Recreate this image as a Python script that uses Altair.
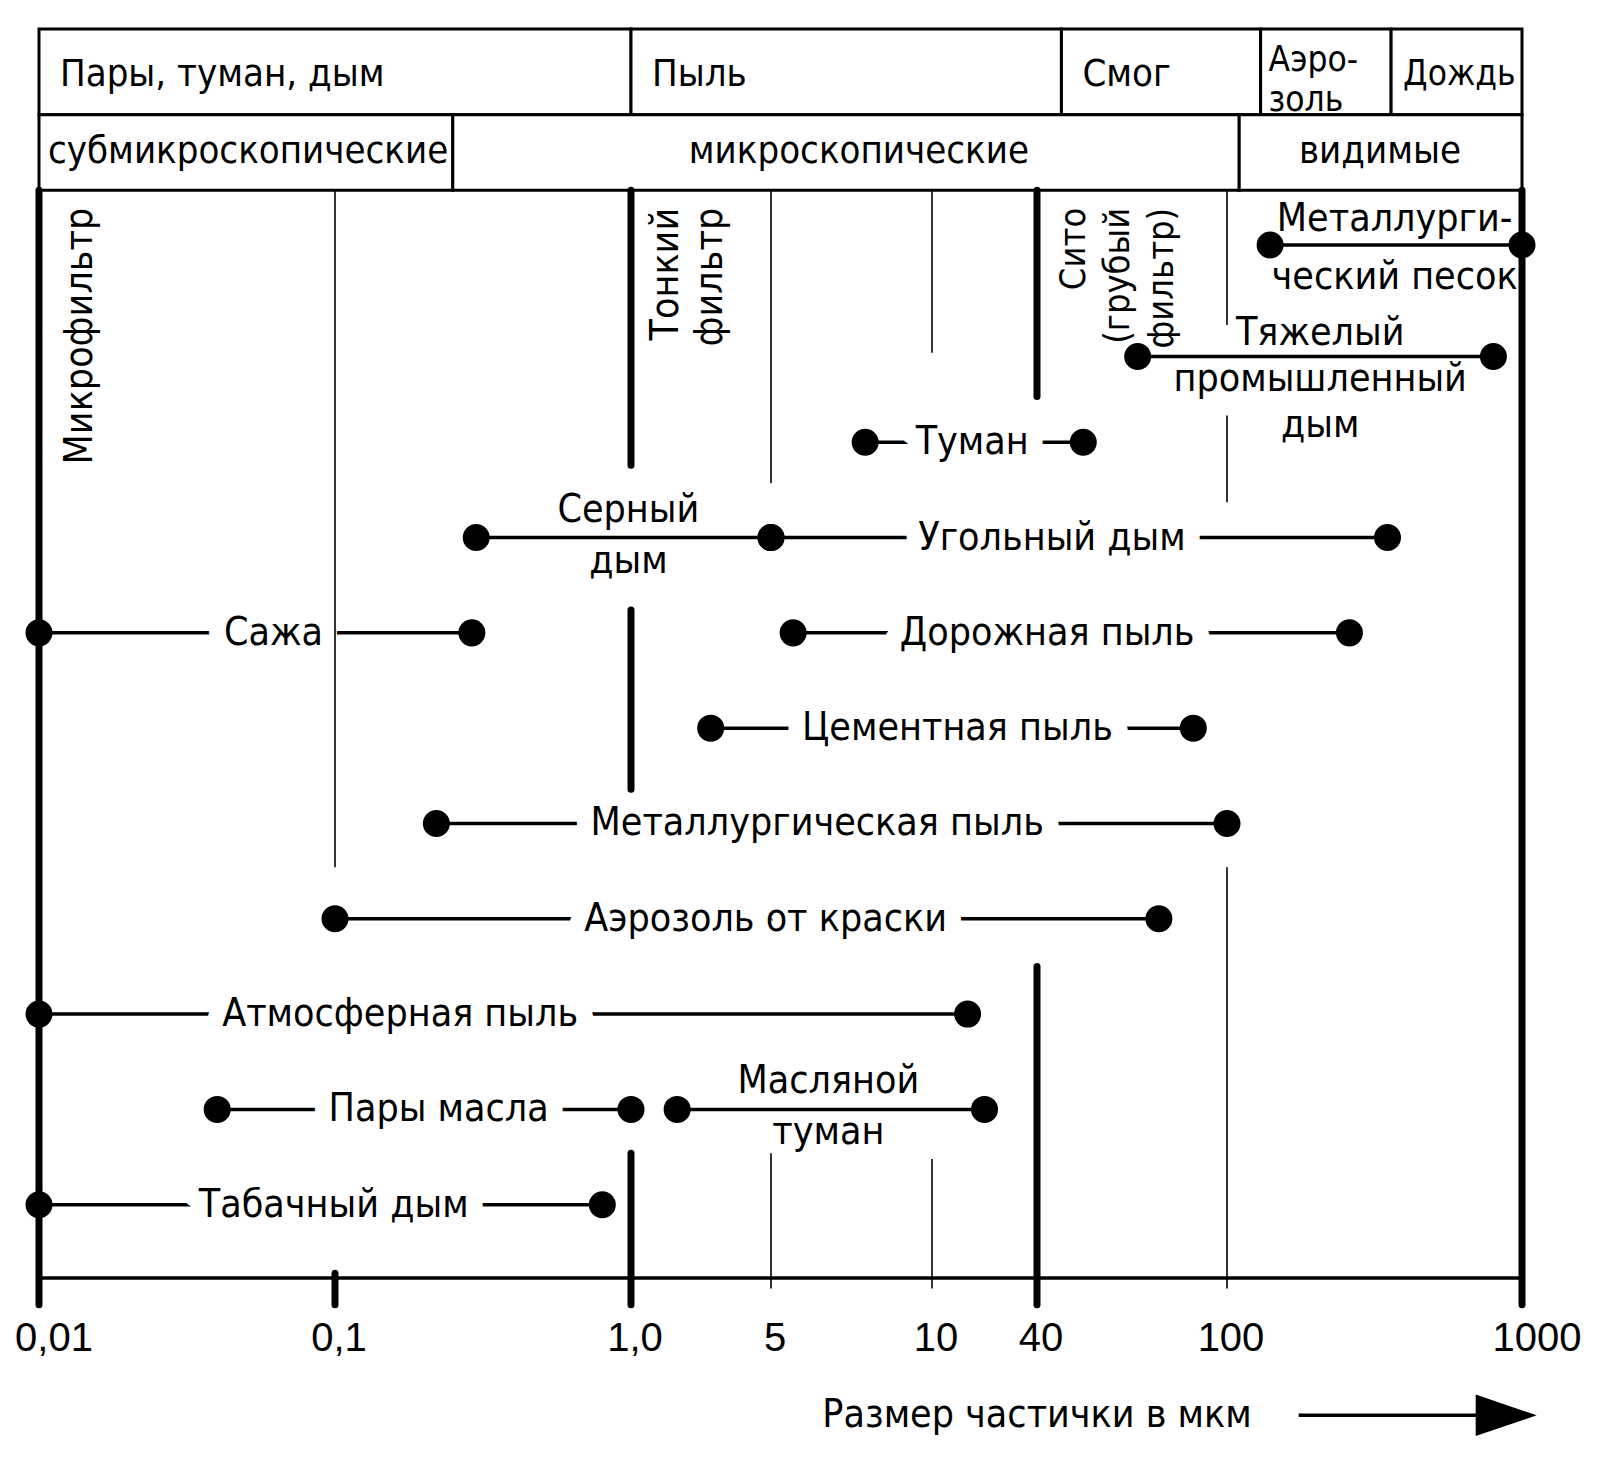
import altair as alt
import pandas as pd

# ---------------- data ----------------
TICK_VALUES = [0.01, 0.1, 1, 5, 10, 40, 100, 1000]
TICK_LABELS = ["0,01", "0,1", "1,0", "5", "10", "40", "100", "1000"]
AXIS_TITLE = "Размер частички в мкм"

NAMES = ["Металлургический песок", "Тяжелый промышленный дым", "Туман", "Серный дым",
         "Угольный дым", "Сажа", "Дорожная пыль", "Цементная пыль",
         "Металлургическая пыль", "Аэрозоль от краски", "Атмосферная пыль",
         "Пары масла", "Масляной туман", "Табачный дым"]
LABELS = ["Металлурги-\nческий песок", "Тяжелый\nпромышленный\nдым", "Туман", "Серный\nдым",
          "Угольный дым", "Сажа", "Дорожная пыль", "Цементная пыль",
          "Металлургическая пыль", "Аэрозоль от краски", "Атмосферная пыль",
          "Пары масла", "Масляной\nтуман", "Табачный дым"]
SIZE_MIN = [140, 65, 7.5, 0.3, 5, 0.01, 5.5, 2.5, 0.22, 0.1, 0.01, 0.04, 1.7, 0.01]
SIZE_MAX = [1000, 800, 50, 5, 350, 0.29, 260, 85, 100, 72, 16, 1, 20, 0.8]
ROW = [0.93, 2.1, 3, 4, 4, 5, 5, 6, 7, 8, 9, 10, 10, 11]
LABEL_AT = [370, 207, 17, 0.98, 43, 0.062, 42, 14, 6.1, 4.7, 0.166, 0.224, 6.4, 0.099]
LABEL_KIND = ["wide2", "three", "inline", "two", "inline", "inline", "inline", "inline",
              "inline", "inline", "inline", "inline", "two", "inline"]

# header: form of particles
FORM_NAMES = ["Пары, туман, дым", "Пыль", "Смог", "Аэро-\nзоль", "Дождь"]
FORM_FROM = [0.01, 1, 45, 130, 360]
FORM_TO = [1, 45, 130, 360, 1000]
FORM_STYLE = ["wide", "wide", "wide", "narrow2", "small"]
# header: visibility classes
CLASS_NAMES = ["субмикроскопические", "микроскопические", "видимые"]
CLASS_FROM = [0.01, 0.25, 110]
CLASS_TO = [0.25, 110, 1000]
CLASS_LABEL_AT = [0.01, 7.3, 330]
CLASS_STYLE = ["narrow", "center", "center"]
HEADER_ROWS = [-1.336, -0.437, 0.355]   # row boundaries of the header
AXIS_ROW = 11.769
TICK_LABEL_ROW = 12.41
TITLE_ROW = 13.21
TITLE_AT = 40

# filter boundary lines (value, from row, to row, heavy?)
GRID_X = [0.01, 1000, 0.1, 0.1, 1, 1, 1, 5, 5, 10, 10, 40, 40, 100, 100, 100]
GRID_FROM = [0.355, 0.355, 0.355, 11.72, 0.355, 4.76, 10.46, 0.355, 10.46, 0.355, 10.52,
             0.355, 8.50, 0.355, 2.72, 7.46]
GRID_TO = [12.05, 12.05, 7.46, 12.05, 3.24, 6.64, 12.05, 3.43, 11.88, 2.06, 11.88,
           2.52, 12.05, 1.77, 3.63, 11.88]
GRID_HEAVY = [True, True, False, True, True, True, True, False, False, False, False,
              True, True, False, False, False]

# filter labels (rotated)
FILTER_TEXT = ["Микрофильтр", "Тонкий\nфильтр", "Сито\n(грубый\nфильтр)"]
FILTER_AT = [0.01, 1, 40]
FILTER_OFFSET = [41, 35, 37]
FILTER_SIZE = [39, 39, 36]
FILTER_TOP_ROW = 0.54

# arrow of the axis title
ARROW_FROM, ARROW_TO, ARROW_HEAD = 175, 724, 884

# ---------------- frames ----------------
ranges = pd.DataFrame({"name": NAMES, "label": LABELS, "lo": SIZE_MIN, "hi": SIZE_MAX,
                       "row": ROW, "label_at": LABEL_AT, "kind": LABEL_KIND})

hdr_rows = []
for n, a, b, s in zip(FORM_NAMES, FORM_FROM, FORM_TO, FORM_STYLE):
    hdr_rows.append(dict(text=n, lo=a, hi=b, at=a, style=s,
                         y1=HEADER_ROWS[0], y2=HEADER_ROWS[1],
                         ym=(HEADER_ROWS[0] + HEADER_ROWS[1]) / 2))
for n, a, b, at, s in zip(CLASS_NAMES, CLASS_FROM, CLASS_TO, CLASS_LABEL_AT, CLASS_STYLE):
    hdr_rows.append(dict(text=n, lo=a, hi=b, at=at, style=s,
                         y1=HEADER_ROWS[1], y2=HEADER_ROWS[2],
                         ym=(HEADER_ROWS[1] + HEADER_ROWS[2]) / 2))
header = pd.DataFrame(hdr_rows)

grid = pd.DataFrame({"x": GRID_X, "y1": GRID_FROM, "y2": GRID_TO, "heavy": GRID_HEAVY})
ticks = pd.DataFrame({"v": TICK_VALUES, "label": TICK_LABELS, "row": TICK_LABEL_ROW,
                      "end": [v in (TICK_VALUES[0], TICK_VALUES[-1]) for v in TICK_VALUES]})
axis_line = pd.DataFrame({"a": [TICK_VALUES[0]], "b": [TICK_VALUES[-1]], "row": [AXIS_ROW]})
title = pd.DataFrame({"text": [AXIS_TITLE], "at": [TITLE_AT], "row": [TITLE_ROW]})
arrow = pd.DataFrame({"a": [ARROW_FROM], "b": [ARROW_TO], "head": [ARROW_HEAD], "row": [TITLE_ROW]})

# ---------------- scales ----------------
FONT = "DejaVu Sans Condensed, DejaVu Sans, sans-serif"
FS = 39
HFS = 38
x_scale = alt.Scale(type="log", domain=TICK_VALUES,
                    range=[0, 296, 592, 732, 893, 998, 1188, 1483], nice=False)
y_scale = alt.Scale(domain=[HEADER_ROWS[0], AXIS_ROW], reverse=True, nice=False, zero=False)


def X(f):
    return alt.X(f, type="quantitative", scale=x_scale, axis=None)


def Y(f):
    return alt.Y(f, type="quantitative", scale=y_scale, axis=None)


layers = []

# header boxes
layers.append(alt.Chart(header).mark_rect(fill="white", stroke="black", strokeWidth=3).encode(
    x=X("lo"), x2="hi", y=Y("y1"), y2="y2"))
for style, align, dx, dy, fs, lh in [("wide", "left", 21, 3, HFS, 37),
                                     ("narrow", "left", 9, 0, HFS, 37),
                                     ("narrow2", "left", 8, -12, 35, 40),
                                     ("small", "left", 12, 2, 35, 37),
                                     ("center", "center", 0, 0, HFS, 37)]:
    layers.append(alt.Chart(header).transform_filter(alt.datum.style == style).mark_text(
        font=FONT, fontSize=fs, color="black", align=align, baseline="middle", dx=dx, dy=dy,
        lineBreak="\n", lineHeight=lh).encode(x=X("at"), y=Y("ym"), text="text"))

# axis base line and tick labels
layers.append(alt.Chart(axis_line).mark_rule(color="black", strokeWidth=3.5).encode(
    x=X("a"), x2="b", y=Y("row")))
for end, dx in [(False, 4), (True, 15)]:
    layers.append(alt.Chart(ticks).transform_filter(alt.datum.end == end).mark_text(
        font="Liberation Sans", fontSize=40, color="black", align="center", baseline="middle",
        dx=dx).encode(x=X("v"), y=Y("row"), text="label"))

# range lines
layers.append(alt.Chart(ranges).mark_rule(color="black", strokeWidth=3.5).encode(
    x=X("lo"), x2="hi", y=Y("row")))

# white halo of inline labels cutting the lines
layers.append(alt.Chart(ranges).transform_filter(alt.datum.kind == "inline").mark_text(
    font=FONT, fontSize=FS, color="white", stroke="white", strokeWidth=34, strokeJoin="round",
    align="center", baseline="middle").encode(x=X("label_at"), y=Y("row"), text="label"))

# filter boundary lines
layers.append(alt.Chart(grid).transform_filter(~alt.datum.heavy).mark_rule(
    color="black", strokeWidth=1.6).encode(x=X("x"), y=Y("y1"), y2="y2"))
layers.append(alt.Chart(grid).transform_filter(alt.datum.heavy).mark_rule(
    color="black", strokeWidth=7, strokeCap="round").encode(x=X("x"), y=Y("y1"), y2="y2"))

# end points
for f in ["lo", "hi"]:
    layers.append(alt.Chart(ranges).mark_circle(color="black", opacity=1, size=730).encode(
        x=X(f), y=Y("row")))

# labels (first line sits at the anchor, so multi-line blocks are shifted up)
for kind, lh, dy in [("inline", 40, 0), ("two", 51, -28), ("wide2", 58, -26), ("three", 46, -23)]:
    layers.append(alt.Chart(ranges).transform_filter(alt.datum.kind == kind).mark_text(
        font=FONT, fontSize=FS, color="black", align="center", baseline="middle",
        lineBreak="\n", lineHeight=lh, dy=dy).encode(x=X("label_at"), y=Y("row"), text="label"))

# rotated filter labels
for t, at, off, fs in zip(FILTER_TEXT, FILTER_AT, FILTER_OFFSET, FILTER_SIZE):
    d = pd.DataFrame({"text": [t], "at": [at], "row": [FILTER_TOP_ROW]})
    layers.append(alt.Chart(d).mark_text(
        font=FONT, fontSize=fs, color="black", angle=270, align="right", baseline="middle",
        lineBreak="\n", lineHeight=44, dy=off).encode(x=X("at"), y=Y("row"), text="text"))

# axis title with arrow
layers.append(alt.Chart(title).mark_text(
    font=FONT, fontSize=FS, color="black", align="center", baseline="middle").encode(
    x=X("at"), y=Y("row"), text="text"))
layers.append(alt.Chart(arrow).mark_rule(color="black", strokeWidth=3.5).encode(
    x=X("a"), x2="b", y=Y("row")))
layers.append(alt.Chart(arrow).mark_point(
    shape="M -1 -0.68 L 1 0 L -1 0.68 Z", filled=True, size=3721, color="black", opacity=1
).encode(x=X("head"), y=Y("row")))

chart = alt.layer(*layers).properties(
    width=1483, height=1249,
    padding={"left": 31, "top": 21, "right": 70, "bottom": 172},
    autosize=alt.AutoSizeParams(type="none"),
    background="white",
).configure_view(stroke=None)

chart.save("out.html", embed_options={"renderer": "svg", "actions": False})
